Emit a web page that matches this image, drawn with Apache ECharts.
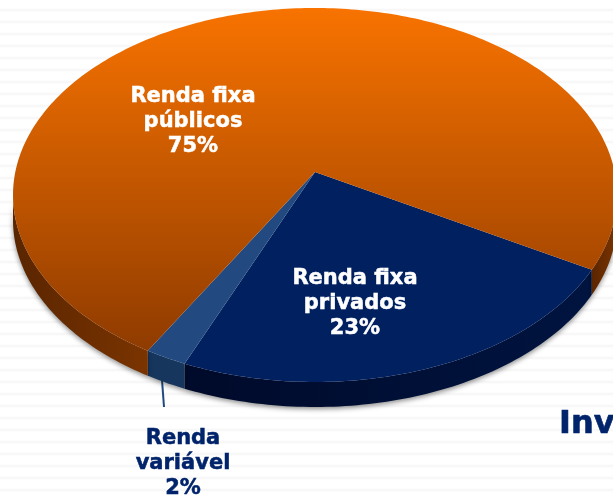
<!DOCTYPE html>
<html>
<head>
<meta charset="utf-8">
<script src="https://cdn.jsdelivr.net/npm/echarts@6/dist/echarts.min.js"></script>
<style>
html, body { margin: 0; padding: 0; }
#chart {
    width: 613px; height: 500px; overflow: hidden;
    background: repeating-linear-gradient(180deg, #ffffff 0px, #ffffff 8px, #fafafa 9px, #f5f5f5 10px, #fafafa 11px, #ffffff 12px);
}
</style>
</head>
<body>
<div id="chart"></div>
<script>
const categories = ['Renda fixa\nprivados', 'Renda\nvariável', 'Renda fixa\npúblicos']
const shares = [23, 2, 75]

// ellipse of the tilted pie, the apex sits above the ellipse centre because of perspective
const pie = { cx: 315, cy: 195, rx: 302, ry: 187, depth: 25, tilt: -0.123, start: 29.9 }
const labelSpots = [[355, 304], [183, 464], [193, 122]]
const labelColors = ['#ffffff', '#00246b', '#ffffff']

const grad = (x0, y0, x1, y1, c0, c1) => new echarts.graphic.LinearGradient(x0, y0, x1, y1, [
    { offset: 0, color: c0 },
    { offset: 1, color: c1 }
])
const topFills = [
    () => '#00205f',
    () => '#224a80',
    () => grad(0, 0, 0, 1, '#f87300', '#8f3b00')
]
const sideFills = [
    () => grad(0, 0, 1, 0, '#000a2a', '#001440'),
    () => '#16365e',
    () => grad(0, 0, 1, 0, '#5a2500', '#7a3400')
]

// true angle on the pie -> point on the rim, seen in perspective
const rimPoint = (deg) => {
    const a = deg * Math.PI / 180
    const x = Math.cos(a), y = Math.sin(a)
    const w = 1 + pie.tilt * y
    return [
        pie.cx + pie.rx * x * Math.sqrt(1 - pie.tilt * pie.tilt) / w,
        pie.cy + pie.ry * (y + pie.tilt) / w
    ]
}

const sliceRange = (i) => {
    const total = shares.reduce((a, b) => a + b, 0)
    const before = shares.slice(0, i).reduce((a, b) => a + b, 0)
    const from = pie.start + before / total * 360
    return [from, from + shares[i] / total * 360]
}

const rimPoints = (i) => {
    const [from, to] = sliceRange(i)
    const pts = []
    for (let d = from; d < to; d += 1) pts.push(rimPoint(d))
    pts.push(rimPoint(to))
    return pts
}

// only the front of the rim has a visible wall, so the big slice gives two runs
const frontRuns = (rim) => {
    const runs = []
    let run = null
    rim.forEach(p => {
        if (p[1] >= pie.cy) {
            if (!run) { run = []; runs.push(run) }
            run.push(p)
        } else {
            run = null
        }
    })
    return runs
}

const renderSide = (params) => {
    const i = params.dataIndex
    return {
        type: 'group',
        children: frontRuns(rimPoints(i)).map(run => ({
            type: 'polygon',
            shape: { points: run.concat(run.map(p => [p[0], p[1] + pie.depth]).reverse()) },
            style: {
                fill: sideFills[i](),
                shadowColor: 'rgba(0,0,0,0.45)',
                shadowBlur: 5,
                shadowOffsetY: 2
            }
        }))
    }
}

const renderTop = (params) => {
    const i = params.dataIndex
    const apex = [pie.cx, pie.cy + pie.ry * pie.tilt]
    return {
        type: 'polygon',
        shape: { points: [apex].concat(rimPoints(i)) },
        style: { fill: topFills[i]() }
    }
}

const renderLabel = (params) => {
    const i = params.dataIndex
    return {
        type: 'text',
        x: labelSpots[i][0],
        y: labelSpots[i][1],
        style: {
            text: categories[i] + '\n' + shares[i] + '%',
            fill: labelColors[i],
            stroke: labelColors[i],
            lineWidth: 0.5,
            fontFamily: 'DejaVu Sans',
            fontWeight: 'bold',
            fontSize: 21,
            lineHeight: 25,
            align: 'center',
            verticalAlign: 'middle'
        }
    }
}

const data = shares.map(v => [v])
const layer = (renderItem) => ({ type: 'custom', coordinateSystem: 'none', silent: true, data, renderItem })

const chart = echarts.init(document.getElementById('chart'), null, { renderer: 'canvas' })
chart.setOption({
    animation: false,
    graphic: [
        {
            type: 'line',
            shape: { x1: 162, y1: 380, x2: 164, y2: 407 },
            style: { stroke: '#1f4a80', lineWidth: 2 }
        },
        {
            type: 'text',
            x: 559,
            y: 425,
            style: {
                text: 'Inv',
                fill: '#00246b',
                stroke: '#00246b',
                lineWidth: 0.6,
                fontFamily: 'DejaVu Sans',
                fontWeight: 'bold',
                fontSize: 32,
                verticalAlign: 'middle'
            }
        }
    ],
    series: [layer(renderSide), layer(renderTop), layer(renderLabel)]
})
</script>
</body>
</html>
